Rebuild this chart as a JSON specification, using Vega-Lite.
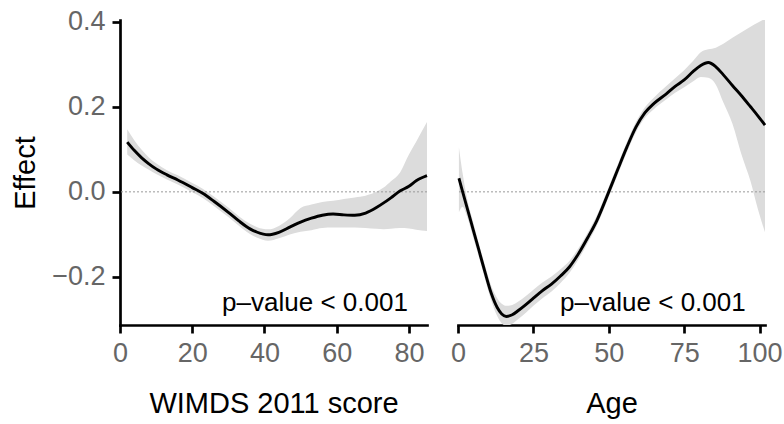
{
  "$schema": "https://vega.github.io/schema/vega-lite/v6.json",
  "padding": {"left": 11, "top": 7, "right": 0, "bottom": 5},
  "spacing": 17,
  "config": {
    "font": "Liberation Sans",
    "view": {"stroke": null},
    "axis": {
      "grid": false,
      "domainColor": "#000000",
      "domainWidth": 2.7,
      "domainCap": "square",
      "tickColor": "#000000",
      "tickWidth": 2.7,
      "tickSize": 8,
      "labelColor": "#666666",
      "labelFontSize": 27,
      "labelPadding": 7,
      "labelFlush": false,
      "labelOverlap": false,
      "titleFontSize": 29,
      "titleFontWeight": "normal",
      "titleColor": "#000000"
    }
  },
  "datasets": {
    "wimds": [
      {"x": 2, "y": 0.117, "lo": 0.088, "hi": 0.147},
      {"x": 4, "y": 0.097, "lo": 0.074, "hi": 0.121},
      {"x": 6, "y": 0.080, "lo": 0.062, "hi": 0.099},
      {"x": 8, "y": 0.066, "lo": 0.052, "hi": 0.081},
      {"x": 10, "y": 0.054, "lo": 0.042, "hi": 0.067},
      {"x": 13, "y": 0.040, "lo": 0.029, "hi": 0.051},
      {"x": 16, "y": 0.028, "lo": 0.017, "hi": 0.039},
      {"x": 20, "y": 0.010, "lo": -0.001, "hi": 0.021},
      {"x": 23, "y": -0.004, "lo": -0.015, "hi": 0.007},
      {"x": 26, "y": -0.022, "lo": -0.033, "hi": -0.011},
      {"x": 30, "y": -0.048, "lo": -0.059, "hi": -0.037},
      {"x": 33, "y": -0.069, "lo": -0.080, "hi": -0.058},
      {"x": 36, "y": -0.087, "lo": -0.099, "hi": -0.075},
      {"x": 38, "y": -0.095, "lo": -0.108, "hi": -0.083},
      {"x": 41, "y": -0.101, "lo": -0.115, "hi": -0.088},
      {"x": 44, "y": -0.095, "lo": -0.109, "hi": -0.080},
      {"x": 47, "y": -0.083, "lo": -0.100, "hi": -0.062},
      {"x": 50, "y": -0.071, "lo": -0.094, "hi": -0.038},
      {"x": 53, "y": -0.062, "lo": -0.090, "hi": -0.030},
      {"x": 56, "y": -0.055, "lo": -0.085, "hi": -0.024},
      {"x": 59, "y": -0.052, "lo": -0.084, "hi": -0.021},
      {"x": 62, "y": -0.054, "lo": -0.084, "hi": -0.017},
      {"x": 65, "y": -0.055, "lo": -0.084, "hi": -0.013},
      {"x": 68, "y": -0.050, "lo": -0.085, "hi": -0.009},
      {"x": 71, "y": -0.037, "lo": -0.087, "hi": 0.000},
      {"x": 73, "y": -0.026, "lo": -0.088, "hi": 0.010},
      {"x": 75, "y": -0.014, "lo": -0.087, "hi": 0.025},
      {"x": 77.5, "y": 0.002, "lo": -0.085, "hi": 0.045},
      {"x": 80, "y": 0.013, "lo": -0.086, "hi": 0.088},
      {"x": 82, "y": 0.026, "lo": -0.089, "hi": 0.118},
      {"x": 85, "y": 0.038, "lo": -0.092, "hi": 0.164}
    ],
    "age": [
      {"x": 0.3, "y": 0.032, "lo": -0.048, "hi": 0.105},
      {"x": 1.5, "y": 0.001, "lo": -0.035, "hi": 0.045},
      {"x": 3, "y": -0.037, "lo": -0.058, "hi": -0.015},
      {"x": 5, "y": -0.088, "lo": -0.106, "hi": -0.070},
      {"x": 7, "y": -0.139, "lo": -0.155, "hi": -0.123},
      {"x": 9, "y": -0.190, "lo": -0.206, "hi": -0.174},
      {"x": 11, "y": -0.238, "lo": -0.255, "hi": -0.221},
      {"x": 13, "y": -0.272, "lo": -0.292, "hi": -0.250},
      {"x": 14.5, "y": -0.287, "lo": -0.309, "hi": -0.263},
      {"x": 16, "y": -0.293, "lo": -0.315, "hi": -0.268},
      {"x": 18, "y": -0.289, "lo": -0.310, "hi": -0.266},
      {"x": 20, "y": -0.279, "lo": -0.299, "hi": -0.258},
      {"x": 22.5, "y": -0.265, "lo": -0.284, "hi": -0.245},
      {"x": 25, "y": -0.250, "lo": -0.268, "hi": -0.230},
      {"x": 28, "y": -0.232, "lo": -0.250, "hi": -0.213},
      {"x": 31, "y": -0.217, "lo": -0.234, "hi": -0.199},
      {"x": 34, "y": -0.198, "lo": -0.214, "hi": -0.182},
      {"x": 37, "y": -0.176, "lo": -0.190, "hi": -0.162},
      {"x": 40, "y": -0.145, "lo": -0.158, "hi": -0.132},
      {"x": 43, "y": -0.108, "lo": -0.120, "hi": -0.096},
      {"x": 46, "y": -0.068, "lo": -0.080, "hi": -0.056},
      {"x": 50, "y": 0.000, "lo": -0.012, "hi": 0.012},
      {"x": 53, "y": 0.053, "lo": 0.041, "hi": 0.065},
      {"x": 56, "y": 0.105, "lo": 0.093, "hi": 0.117},
      {"x": 59, "y": 0.152, "lo": 0.140, "hi": 0.164},
      {"x": 62, "y": 0.186, "lo": 0.174, "hi": 0.199},
      {"x": 65, "y": 0.208, "lo": 0.195, "hi": 0.222},
      {"x": 69, "y": 0.230, "lo": 0.217, "hi": 0.248},
      {"x": 72, "y": 0.248, "lo": 0.233, "hi": 0.267},
      {"x": 75, "y": 0.263, "lo": 0.246, "hi": 0.286},
      {"x": 78, "y": 0.283, "lo": 0.260, "hi": 0.308},
      {"x": 80.5, "y": 0.297, "lo": 0.270, "hi": 0.328},
      {"x": 83, "y": 0.304, "lo": 0.268, "hi": 0.335},
      {"x": 85.5, "y": 0.294, "lo": 0.252, "hi": 0.339},
      {"x": 88, "y": 0.275, "lo": 0.210, "hi": 0.348},
      {"x": 91, "y": 0.250, "lo": 0.160, "hi": 0.362},
      {"x": 94, "y": 0.226, "lo": 0.088, "hi": 0.375},
      {"x": 97, "y": 0.200, "lo": 0.025, "hi": 0.388},
      {"x": 99.5, "y": 0.178, "lo": -0.042, "hi": 0.398},
      {"x": 101.8, "y": 0.157, "lo": -0.095, "hi": 0.407}
    ]
  },
  "hconcat": [
    {
      "width": 307,
      "height": 305,
      "layer": [
        {
          "data": {"name": "wimds"},
          "mark": {"type": "area", "color": "#dcdcdc", "interpolate": "monotone", "clip": true},
          "encoding": {
            "x": {"field": "x", "type": "quantitative",
              "scale": {"domain": [0, 85], "nice": false, "zero": false},
              "axis": {"values": [0, 20, 40, 60, 80], "title": "WIMDS 2011 score", "minExtent": 41, "maxExtent": 41, "titlePadding": 23}},
            "y": {"field": "lo", "type": "quantitative",
              "scale": {"domain": [-0.313, 0.404], "nice": false, "zero": false},
              "axis": {"values": [-0.2, 0, 0.2, 0.4], "format": ".1f", "title": "Effect", "minExtent": 66, "maxExtent": 66, "titlePadding": 14}},
            "y2": {"field": "hi"}
          }
        },
        {
          "data": {"values": [{}]},
          "mark": {"type": "rule", "color": "#999999", "strokeDash": [2, 2], "strokeWidth": 1},
          "encoding": {"y": {"datum": 0}}
        },
        {
          "data": {"name": "wimds"},
          "mark": {"type": "line", "color": "#000000", "strokeWidth": 2.9, "interpolate": "monotone"},
          "encoding": {
            "x": {"field": "x", "type": "quantitative"},
            "y": {"field": "y", "type": "quantitative"}
          }
        },
        {
          "data": {"values": [{}]},
          "mark": {"type": "text", "align": "right", "baseline": "alphabetic", "fontSize": 26, "color": "#000000"},
          "encoding": {
            "x": {"datum": 79.7},
            "y": {"datum": -0.279},
            "text": {"value": "p–value < 0.001"}
          }
        }
      ]
    },
    {
      "width": 307,
      "height": 305,
      "layer": [
        {
          "data": {"name": "age"},
          "mark": {"type": "area", "color": "#dcdcdc", "interpolate": "monotone", "clip": true},
          "encoding": {
            "x": {"field": "x", "type": "quantitative",
              "scale": {"domain": [0, 101.8], "nice": false, "zero": false},
              "axis": {"values": [0, 25, 50, 75, 100], "title": "Age", "minExtent": 41, "maxExtent": 41, "titlePadding": 23}},
            "y": {"field": "lo", "type": "quantitative",
              "scale": {"domain": [-0.313, 0.404], "nice": false, "zero": false},
              "axis": null},
            "y2": {"field": "hi"}
          }
        },
        {
          "data": {"values": [{}]},
          "mark": {"type": "rule", "color": "#999999", "strokeDash": [2, 2], "strokeWidth": 1},
          "encoding": {"y": {"datum": 0}}
        },
        {
          "data": {"name": "age"},
          "mark": {"type": "line", "color": "#000000", "strokeWidth": 2.9, "interpolate": "monotone"},
          "encoding": {
            "x": {"field": "x", "type": "quantitative"},
            "y": {"field": "y", "type": "quantitative"}
          }
        },
        {
          "data": {"values": [{}]},
          "mark": {"type": "text", "align": "right", "baseline": "alphabetic", "fontSize": 26, "color": "#000000"},
          "encoding": {
            "x": {"datum": 95.4},
            "y": {"datum": -0.279},
            "text": {"value": "p–value < 0.001"}
          }
        }
      ]
    }
  ]
}
